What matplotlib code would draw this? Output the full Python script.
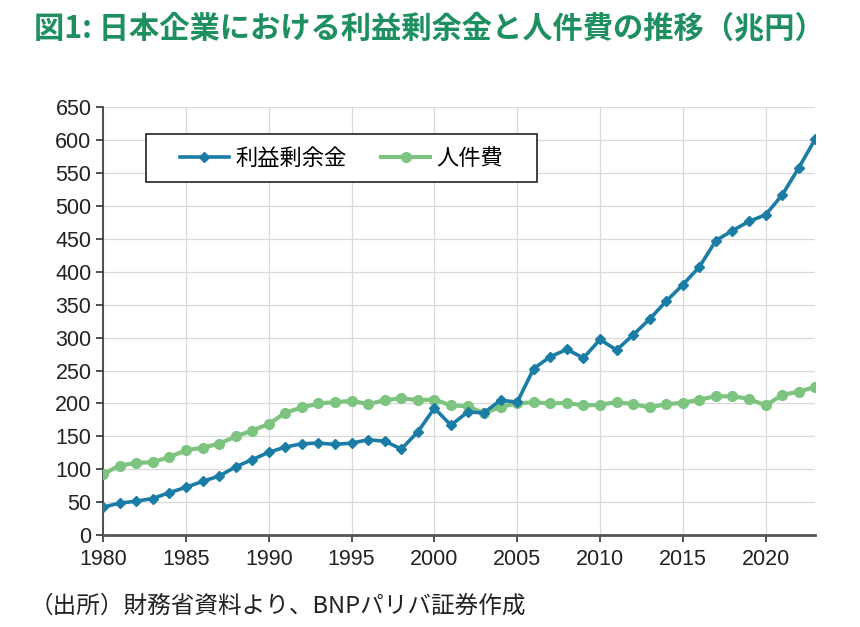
import matplotlib
matplotlib.use("Agg")
import matplotlib.pyplot as plt
from matplotlib.ticker import MultipleLocator
from matplotlib.patches import Rectangle

plt.rcParams['font.family'] = ['Noto Sans CJK JP', 'DejaVu Sans']

years = list(range(1980, 2024))
retained_earnings = [43, 49, 52, 56, 65, 73, 82, 90, 104, 115,
                     126, 134, 139, 140, 138, 140, 145, 143, 131, 157,
                     193, 167, 187, 186, 205, 202, 253, 271, 282, 269,
                     297, 281, 304, 328, 355, 380, 407, 447, 462, 476,
                     486, 516, 557, 601]
labor_cost = [93, 106, 110, 111, 119, 129, 133, 139, 150, 159,
              169, 186, 194, 200, 202, 204, 199, 205, 208, 205,
              206, 197, 196, 185, 195, 200, 202, 200, 201, 197,
              198, 202, 199, 194, 199, 201, 206, 211, 211, 207,
              197, 213, 218, 225]
series_names = ['利益剰余金', '人件費']
title = '図1: 日本企業における利益剰余金と人件費の推移（兆円）'
source = '（出所）財務省資料より、BNPパリバ証券作成'

blue = '#1b7ca5'
green = '#7cc47f'

fig = plt.figure(figsize=(8.6, 6.27), dpi=100)
ax = fig.add_axes([0.120, 0.146, 0.828, 0.684])

ax.plot(years, retained_earnings, color=blue, lw=2.6, marker='D', ms=5.5,
        label=series_names[0], zorder=4)
ax.plot(years, labor_cost, color=green, lw=3.0, marker='o', ms=7,
        label=series_names[1], zorder=3)

ax.set_xlim(1980, 2023)
ax.set_ylim(0, 650)
ax.xaxis.set_major_locator(MultipleLocator(5))
ax.yaxis.set_major_locator(MultipleLocator(50))
ax.grid(True, color='#d9d9d9', lw=0.9)
ax.set_axisbelow(True)

for s in ['top', 'right']:
    ax.spines[s].set_visible(False)
ax.spines['left'].set_color('#333333')
ax.spines['left'].set_linewidth(1.2)
ax.spines['bottom'].set_color('#555555')
ax.spines['bottom'].set_linewidth(2.0)

ax.tick_params(axis='both', direction='out', length=5, width=1.2,
               colors='#333333', labelcolor='#222222', labelsize=15.5)
ax.tick_params(axis='x', pad=5)
for lab in ax.get_xticklabels() + ax.get_yticklabels():
    lab.set_family(['Liberation Sans', 'DejaVu Sans'])

# legend frame
ax.add_patch(Rectangle((0.0604, 0.824), 0.549, 0.112, transform=ax.transAxes,
                       facecolor='white', edgecolor='#222222', lw=1.2,
                       zorder=5, clip_on=False))
leg = ax.legend(loc='center', bbox_to_anchor=(0.335, 0.88), ncol=2,
                fontsize=16, frameon=False, handlelength=2.2,
                handletextpad=0.3, columnspacing=1.55, borderaxespad=0)
leg.set_zorder(6)

fig.text(0.040, 0.955, title, fontsize=21.8, fontweight='bold', color='#1e9060',
         ha='left', va='center')
fig.text(0.034, 1 - 606 / 627, source, fontsize=17, color='#222222',
         ha='left', va='center')

fig.savefig('out.png', dpi=100)
